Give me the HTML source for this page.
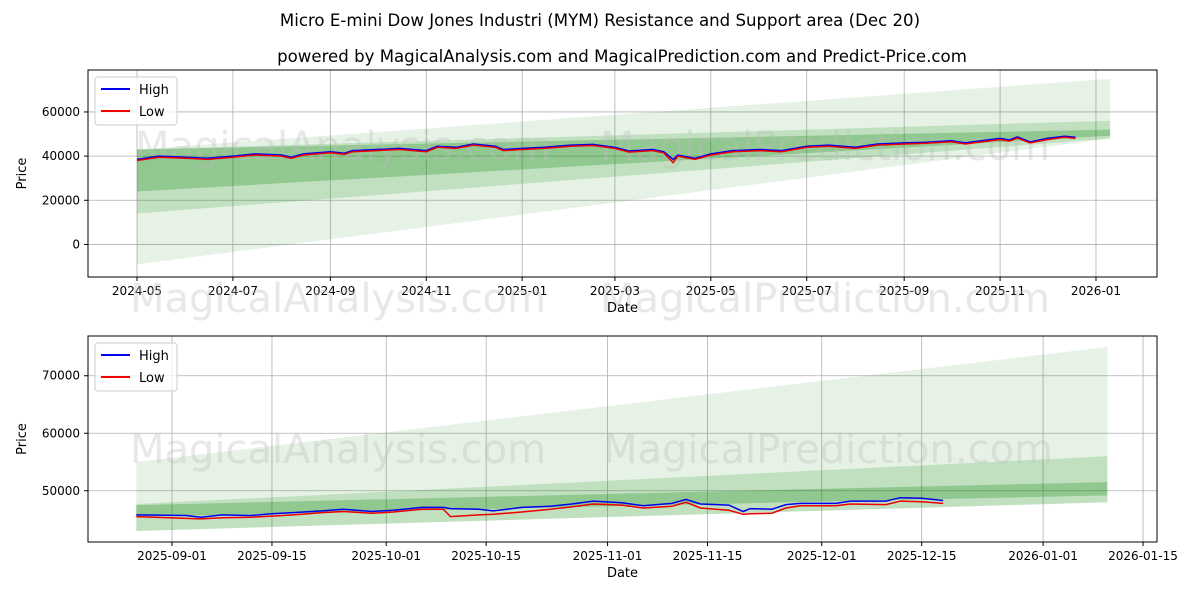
<!DOCTYPE html>
<html><head><meta charset="utf-8"><style>
body{margin:0;background:#fff;font-family:"Liberation Sans","DejaVu Sans",sans-serif}
svg text{font-family:"DejaVu Sans","Liberation Sans",sans-serif}
</style></head><body>
<svg id="c" width="1200" height="600" viewBox="0 0 1200 600" xmlns="http://www.w3.org/2000/svg">
<text x="600" y="26" text-anchor="middle" font-size="16.6">Micro E-mini Dow Jones Industri (MYM) Resistance and Support area (Dec 20)</text>
<text x="622" y="62" text-anchor="middle" font-size="16.6">powered by MagicalAnalysis.com and MagicalPrediction.com and Predict-Price.com</text>
</svg>
<script>
// ---- data ----
const topDates=["2024-05-01","2024-05-15","2024-06-01","2024-06-15","2024-07-01","2024-07-15","2024-08-01","2024-08-07","2024-08-15","2024-09-01","2024-09-10","2024-09-15","2024-10-01","2024-10-15","2024-11-01","2024-11-08","2024-11-20","2024-12-01","2024-12-15","2024-12-20","2025-01-01","2025-01-15","2025-02-01","2025-02-15","2025-03-01","2025-03-10","2025-03-25","2025-04-01","2025-04-07","2025-04-10","2025-04-21","2025-05-01","2025-05-15","2025-06-01","2025-06-15","2025-07-01","2025-07-15","2025-08-01","2025-08-15","2025-09-01","2025-09-15","2025-10-01","2025-10-10","2025-10-15","2025-11-01","2025-11-07","2025-11-12","2025-11-20","2025-12-01","2025-12-12","2025-12-19"];
const topLow=[38000,39500,39000,38500,39500,40500,40000,39000,40500,41500,40800,42000,42500,43000,42000,44000,43500,45000,44000,42500,43000,43500,44500,44800,43500,41800,42500,41500,37000,40000,38500,40500,42000,42500,42000,44000,44500,43500,45000,45500,45800,46500,45500,46000,47500,46800,48200,46000,47500,48500,48000];
const topHighOffset=[500,500,500,500,500,500,500,500,500,500,500,500,500,500,500,500,500,500,500,500,500,500,500,500,500,500,500,500,1500,500,500,500,500,500,500,500,500,500,500,500,500,500,500,500,500,500,500,500,500,500,500];
const botDates=["2025-08-27","2025-09-03","2025-09-05","2025-09-08","2025-09-12","2025-09-15","2025-09-18","2025-09-22","2025-09-25","2025-09-29","2025-10-02","2025-10-06","2025-10-09","2025-10-10","2025-10-14","2025-10-16","2025-10-20","2025-10-24","2025-10-27","2025-10-30","2025-11-03","2025-11-06","2025-11-10","2025-11-12","2025-11-14","2025-11-18","2025-11-20","2025-11-21","2025-11-24","2025-11-26","2025-11-28","2025-12-03","2025-12-05","2025-12-10","2025-12-12","2025-12-15","2025-12-18"];
const botHigh=[45800,45700,45400,45800,45700,46000,46200,46500,46800,46400,46600,47100,47100,46900,46800,46500,47100,47300,47700,48200,47900,47400,47800,48500,47700,47500,46400,46900,46800,47600,47800,47800,48200,48200,48800,48700,48300];
const botLow=[45500,45200,45100,45300,45400,45600,45800,46200,46400,46100,46300,46800,46800,45500,45800,45900,46300,46800,47200,47700,47500,47000,47300,48000,47000,46600,45900,46000,46100,47000,47400,47400,47700,47600,48200,48100,47800];
// bands: [startTop,startBottom,endTop,endBottom]
const bandDates=["2024-05-01","2026-01-10"];
const bandLight=[43000,-9000,75000,48000];
const bandMid=[43000,14000,56000,48000];
const bandDark=[43000,24000,52000,49200];
const botBandDates=["2025-08-27","2026-01-10"];
const botBandLight=[55000,43000,75000,48000];
const botBandMid=[47700,43000,56000,48000];
const botBandDark=[47500,45500,51500,49200];
const topYTicks=[0,20000,40000,60000];
const topXTicks=["2024-05","2024-07","2024-09","2024-11","2025-01","2025-03","2025-05","2025-07","2025-09","2025-11","2026-01"];
const botYTicks=[50000,60000,70000];
const botXTicks=["2025-09-01","2025-09-15","2025-10-01","2025-10-15","2025-11-01","2025-11-15","2025-12-01","2025-12-15","2026-01-01","2026-01-15"];

const NS="http://www.w3.org/2000/svg",svg=document.getElementById('c');
const D=s=>Date.parse(s.length==7?s+"-01":s)/864e5;
function el(t,a,p){const e=document.createElementNS(NS,t);for(const k in a)e.setAttribute(k,a[k]);(p||svg).appendChild(e);return e;}

function panel(o){
  const {x0,x1,y0,y1,d0,d1,v0,v1}=o;
  const X=d=>x0+(D(d)-d0)/(d1-d0)*(x1-x0);
  const Y=v=>y1-(v-v0)/(v1-v0)*(y1-y0);
  const g=el('g',{});
  
  
  o.xt.forEach(t=>{const x=X(t);
    const l=el('line',{x1:x,x2:x,y1:y0,y2:y1,stroke:'#b0b0b0','stroke-width':0.8},g);
    
    el('line',{x1:x,x2:x,y1:y1,y2:y1+4,stroke:'#000'},g);
    const tx=el('text',{x:x,y:y1+18,'text-anchor':'middle','font-size':12},g);tx.textContent=t;
    });
  o.yt.forEach(v=>{const y=Y(v);
    const l=el('line',{x1:x0,x2:x1,y1:y,y2:y,stroke:'#b0b0b0','stroke-width':0.8},g);
    
    el('line',{x1:x0-4,x2:x0,y1:y,y2:y,stroke:'#000'},g);
    const tx=el('text',{x:x0-8,y:y+4,'text-anchor':'end','font-size':12},g);tx.textContent=v;
    });
  [[o.bl,0.1],[o.bm,0.16],[o.bd,0.25]].forEach(([b,a],i)=>{
    const xa=X(o.bds[0]),xb=X(o.bds[1]);
    const p=el('polygon',{points:`${xa},${Y(b[0])} ${xb},${Y(b[2])} ${xb},${Y(b[3])} ${xa},${Y(b[1])}`,fill:`rgba(0,128,0,${a})`},g);
    
  });
  o.wm.forEach(w=>{const t=el('text',{x:w[0],y:w[1],'font-size':40,fill:'rgba(190,190,190,0.35)'},g);t.textContent=w[2];
    });
  const pts=(ds,vs)=>ds.map((d,i)=>X(d).toFixed(1)+','+Y(vs[i]).toFixed(1)).join(' ');
  const hl=el('polyline',{points:pts(o.dates,o.high),fill:'none',stroke:'#0000ee','stroke-width':1.5},g);
  
  const ll=el('polyline',{points:pts(o.dates,o.low),fill:'none',stroke:'#ee0000','stroke-width':1.5},g);
  
  const fr=el('rect',{x:x0,y:y0,width:x1-x0,height:y1-y0,fill:'none',stroke:'#000','stroke-width':1},g);
  
  const xl=el('text',{x:(x0+x1)/2,y:y1+35,'text-anchor':'middle','font-size':13},g);xl.textContent='Date';
  
  const yl=el('text',{x:0,y:0,'text-anchor':'middle','font-size':13,transform:`translate(${o.ylx},${(y0+y1)/2}) rotate(-90)`},g);yl.textContent='Price';
  
  const lg=el('g',{},g);
  
  el('rect',{x:x0+7,y:y0+7,width:82,height:48,rx:3,fill:'rgba(255,255,255,0.8)',stroke:'#ccc'},lg);
  [['High','#0000ee'],['Low','#ee0000']].forEach((e,i)=>{const yy=y0+19+i*22;
    el('line',{x1:x0+13,x2:x0+42,y1:yy,y2:yy,stroke:e[1],'stroke-width':2},lg);
    const t=el('text',{x:x0+51,y:yy+5,'font-size':13},lg);t.textContent=e[0];
    });
}
panel({name:'top-chart',x0:88,x1:1157,y0:70,y1:277,d0:D("2024-05-01")-(137-88)/1.5721,d1:D("2024-05-01")+(1157-137)/1.5721,v0:-14750,v1:79000,
  xt:topXTicks,yt:topYTicks,bds:bandDates,bl:bandLight,bm:bandMid,bd:bandDark,dates:topDates,low:topLow,high:topLow.map((v,i)=>v+topHighOffset[i]),ylx:26,
  wm:[[135,160,'MagicalAnalysis.com'],[600,160,'MagicalPrediction.com'],[130,312,'MagicalAnalysis.com'],[600,312,'MagicalPrediction.com']]});
panel({name:'bottom-chart',x0:88,x1:1157,y0:336,y1:542,d0:D("2025-09-01")-(172-88)/7.14,d1:D("2025-09-01")+(1157-172)/7.14,v0:41087,v1:76913,
  xt:botXTicks,yt:botYTicks,bds:botBandDates,bl:botBandLight,bm:botBandMid,bd:botBandDark,dates:botDates,low:botLow,high:botHigh,ylx:26,
  wm:[[130,463,'MagicalAnalysis.com'],[603,463,'MagicalPrediction.com']]});
</script>
</body></html>
